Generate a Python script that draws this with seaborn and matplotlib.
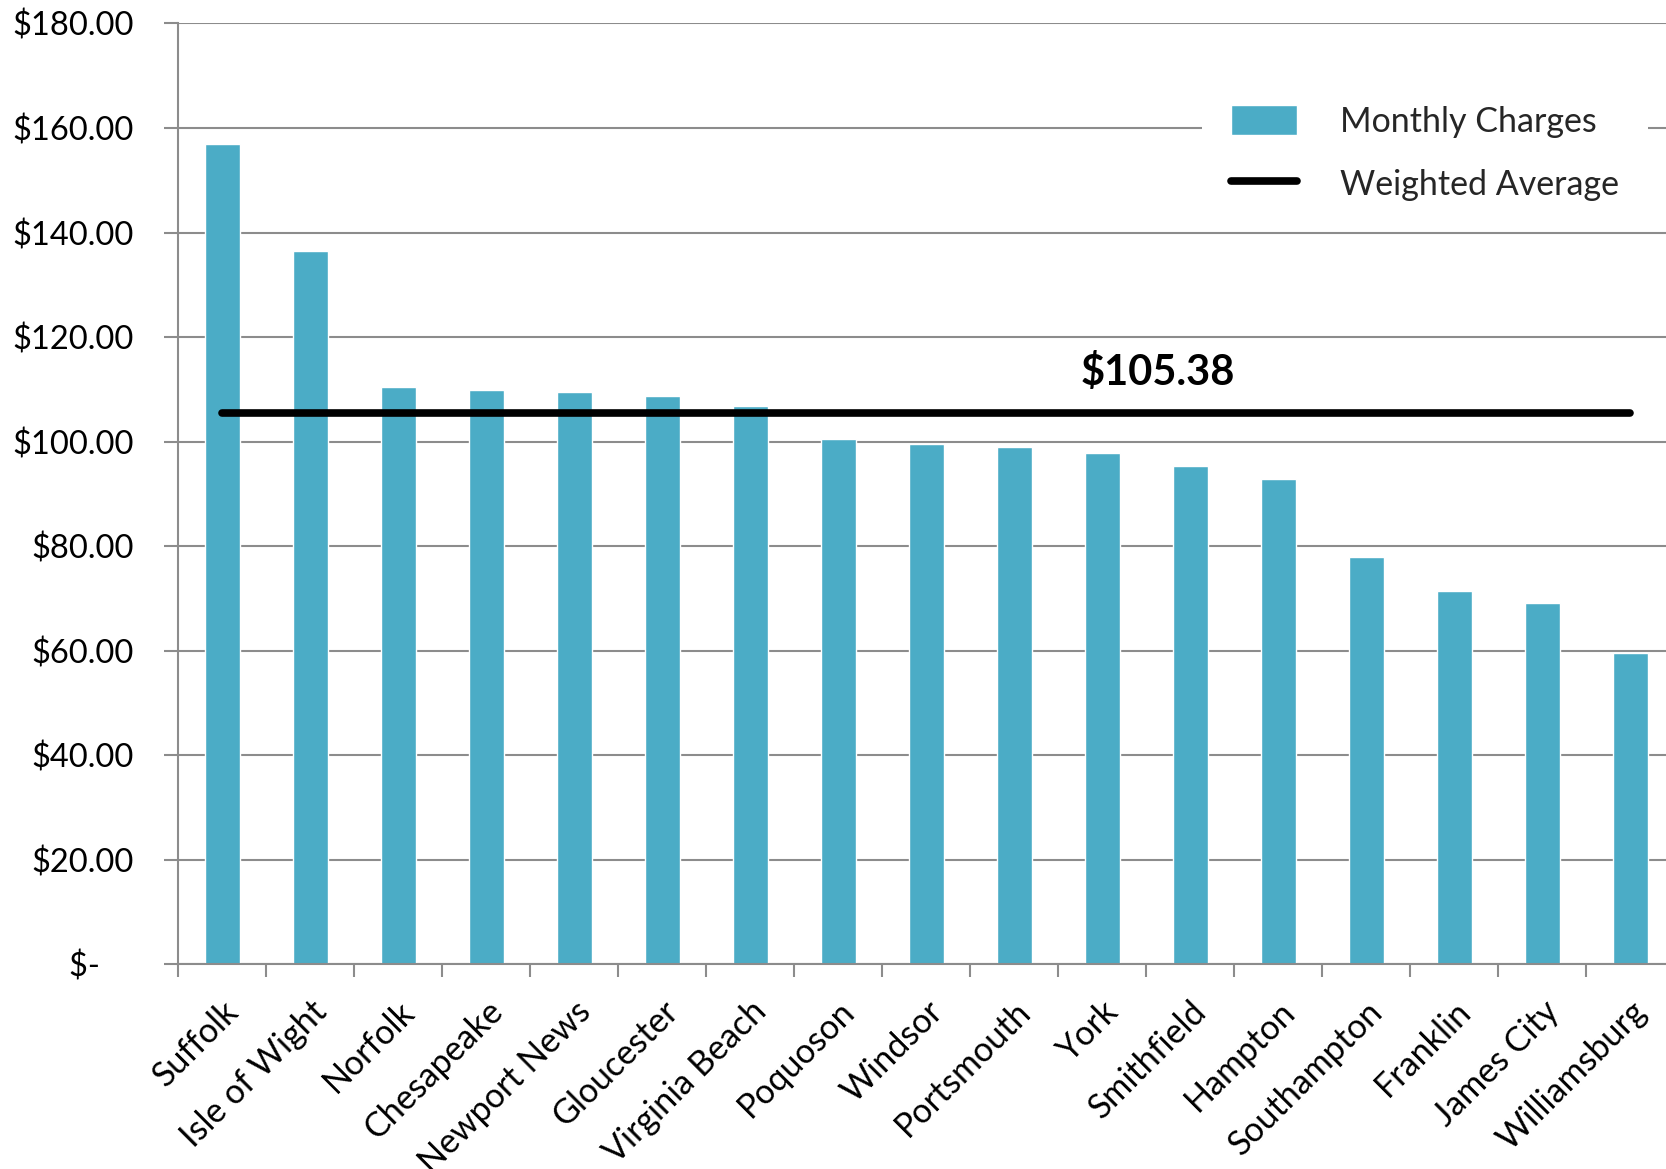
import numpy as np
import matplotlib.pyplot as plt
import seaborn as sns
from matplotlib.patches import Patch
from matplotlib.lines import Line2D
from matplotlib.ticker import FixedLocator

# данные
cities = ['Suffolk', 'Isle of Wight', 'Norfolk', 'Chesapeake', 'Newport News',
          'Gloucester', 'Virginia Beach', 'Poquoson', 'Windsor', 'Portsmouth',
          'York', 'Smithfield', 'Hampton', 'Southampton', 'Franklin',
          'James City', 'Williamsburg']
monthly_charges = [156.9, 136.4, 110.5, 109.8, 109.5, 108.8, 106.9, 100.5, 99.6,
                   98.9, 97.8, 95.4, 92.9, 78.0, 71.4, 69.1, 59.5]
weighted_avg = 105.38
y_ticks = [0, 20, 40, 60, 80, 100, 120, 140, 160, 180]
y_tick_labels = ['$-    ', '$20.00', '$40.00', '$60.00', '$80.00', '$100.00',
                 '$120.00', '$140.00', '$160.00', '$180.00']

bar_color = '#4BACC6'
grid_color = '#8c8c8c'

sns.set_style('white')
plt.rcParams['font.family'] = ['Lato', 'DejaVu Sans']

fig = plt.figure(figsize=(16.66, 11.69), dpi=100)
ax = fig.add_axes([0.107, 0.175, 0.898, 0.805])

sns.barplot(x=cities, y=monthly_charges, color=bar_color, saturation=1,
            width=0.4, ax=ax)
sns.lineplot(x=cities, y=[weighted_avg] * len(cities), color='black', lw=5.5,
             sort=False, estimator=None, solid_capstyle='round', ax=ax)

ax.text(10.63, 113.2, f'${weighted_avg:.2f}', fontsize=30, fontweight='bold',
        ha='center', va='center', color='black')

# оси
ax.set_xlim(-0.5, len(cities) - 0.5)
ax.set_ylim(0, 180)
ax.set_yticks(y_ticks)
ax.set_yticklabels(y_tick_labels)
ax.xaxis.set_minor_locator(FixedLocator(np.arange(-0.5, len(cities), 1)))
ax.tick_params(axis='x', which='major', length=0, pad=22, labelsize=24.5,
               labelcolor='black')
ax.tick_params(axis='x', which='minor', length=9, width=1.5, color=grid_color,
               direction='out', bottom=True)
ax.tick_params(axis='y', length=10, width=1.5, color=grid_color, pad=22,
               labelsize=23.5, labelcolor='black', left=True)
plt.setp(ax.get_xticklabels(), rotation=45, ha='right', rotation_mode='anchor')

ax.yaxis.grid(True, color=grid_color, lw=1.5)
ax.set_axisbelow(True)
sns.despine(ax=ax)
for side in ['left', 'bottom']:
    ax.spines[side].set_color(grid_color)
    ax.spines[side].set_linewidth(1.5)
ax.set_xlabel('')
ax.set_ylabel('')

handles = [Patch(facecolor=bar_color, label='Monthly Charges'),
           Line2D([], [], color='black', lw=5.5, label='Weighted Average')]
ax.legend(handles=handles, loc='upper left', bbox_to_anchor=(0.7215, 0.935),
          bbox_transform=fig.transFigure, frameon=True, facecolor='white',
          edgecolor='none', framealpha=1, fontsize=24.5, handlelength=1.95,
          handleheight=1.0, handletextpad=1.25, labelspacing=0.88,
          borderpad=0.85, borderaxespad=0)

plt.savefig('out.png', dpi=100)
